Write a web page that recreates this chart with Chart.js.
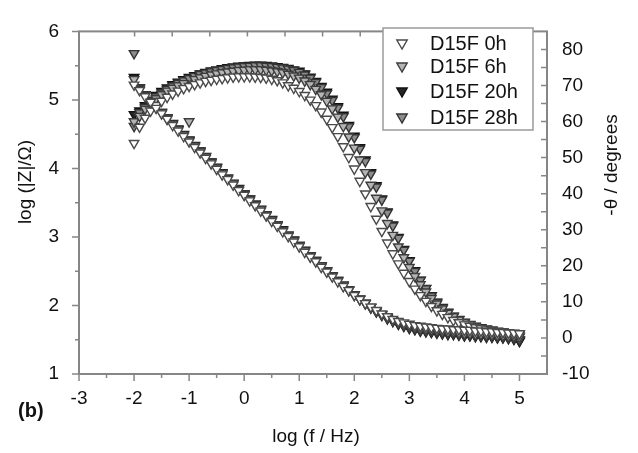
<!DOCTYPE html>
<html>
<head>
<meta charset="utf-8">
<script src="https://cdn.jsdelivr.net/npm/chart.js@4.4.0/dist/chart.umd.min.js"></script>
<style>
  html, body { margin: 0; padding: 0; background: #fff; }
</style>
</head>
<body>
<canvas id="myChart" width="638" height="453"></canvas>
<script>
// log(f / Hz), 10 points per decade
const logF = [-2.0,-1.9,-1.8,-1.7,-1.6,-1.5,-1.4,-1.3,-1.2,-1.1,
  -1.0,-0.9,-0.8,-0.7,-0.6,-0.5,-0.4,-0.3,-0.2,-0.1,
  0.0,0.1,0.2,0.3,0.4,0.5,0.6,0.7,0.8,0.9,
  1.0,1.1,1.2,1.3,1.4,1.5,1.6,1.7,1.8,1.9,
  2.0,2.1,2.2,2.3,2.4,2.5,2.6,2.7,2.8,2.9,
  3.0,3.1,3.2,3.3,3.4,3.5,3.6,3.7,3.8,3.9,
  4.0,4.1,4.2,4.3,4.4,4.5,4.6,4.7,4.8,4.9,5.0];

const seriesNames = ['D15F 0h', 'D15F 6h', 'D15F 20h', 'D15F 28h'];

// log |Z| / Ohm
const z0h = [5.22,5.14,5.05,4.97,4.88,4.80,4.72,4.63,4.55,4.47,
  4.39,4.31,4.23,4.15,4.07,3.99,3.91,3.84,3.76,3.68,
  3.61,3.53,3.46,3.38,3.31,3.23,3.16,3.08,3.01,2.93,
  2.86,2.78,2.71,2.64,2.56,2.49,2.42,2.35,2.28,2.22,
  2.15,2.09,2.03,1.98,1.93,1.88,1.84,1.80,1.77,1.75,
  1.73,1.71,1.70,1.69,1.68,1.67,1.66,1.66,1.65,1.65,
  1.64,1.64,1.63,1.63,1.62,1.62,1.61,1.61,1.60,1.60,1.59];
const z6h = [5.30,5.16,5.07,4.98,4.90,4.81,4.73,4.65,4.57,4.49,
  4.41,4.33,4.25,4.17,4.09,4.01,3.93,3.85,3.78,3.70,
  3.62,3.55,3.47,3.40,3.32,3.25,3.17,3.10,3.02,2.95,
  2.87,2.80,2.72,2.65,2.58,2.50,2.43,2.36,2.29,2.22,
  2.15,2.09,2.03,1.97,1.92,1.87,1.82,1.78,1.75,1.72,
  1.70,1.68,1.66,1.65,1.64,1.63,1.62,1.61,1.61,1.60,
  1.59,1.59,1.58,1.58,1.57,1.57,1.56,1.56,1.55,1.55,1.54];
const z20h = [5.33,5.18,5.08,4.99,4.91,4.82,4.74,4.66,4.58,4.50,
  4.42,4.34,4.26,4.18,4.10,4.02,3.94,3.86,3.79,3.71,
  3.63,3.56,3.48,3.41,3.33,3.26,3.18,3.11,3.03,2.96,
  2.88,2.81,2.73,2.66,2.58,2.51,2.44,2.37,2.30,2.23,
  2.16,2.09,2.03,1.97,1.91,1.86,1.81,1.77,1.73,1.70,
  1.67,1.65,1.63,1.62,1.61,1.60,1.59,1.58,1.58,1.57,
  1.56,1.56,1.55,1.55,1.54,1.54,1.53,1.53,1.52,1.51,1.48];
const z28h = [5.68,5.17,5.08,4.99,4.90,4.82,4.74,4.65,4.57,4.49,
  4.41,4.33,4.25,4.17,4.09,4.01,3.93,3.86,3.78,3.70,
  3.63,3.55,3.48,3.40,3.33,3.25,3.18,3.10,3.03,2.95,
  2.88,2.80,2.73,2.66,2.58,2.51,2.44,2.37,2.30,2.23,
  2.16,2.10,2.04,1.98,1.92,1.87,1.82,1.78,1.74,1.71,
  1.68,1.66,1.64,1.63,1.62,1.61,1.60,1.59,1.59,1.58,
  1.57,1.57,1.56,1.56,1.55,1.55,1.54,1.54,1.53,1.52,1.50];

// -theta / degrees
const p0h = [54.0,58.5,61.0,63.0,64.5,65.7,66.8,67.7,68.5,69.2,
  69.8,70.3,70.8,71.2,71.5,71.8,72.0,72.2,72.4,72.5,
  72.5,72.5,72.4,72.3,72.1,71.8,71.4,70.8,70.0,69.3,
  68.4,67.3,66.0,64.5,62.7,60.7,58.4,55.9,53.1,50.1,
  46.9,43.5,40.0,36.5,33.0,29.6,26.4,23.4,20.6,18.0,
  15.7,13.6,11.8,10.2,8.8,7.6,6.6,5.7,4.9,4.3,
  3.7,3.3,2.9,2.6,2.3,2.1,1.9,1.7,1.5,1.3,1.1];
const p6h = [60.0,61.5,63.5,65.0,66.4,67.5,68.5,69.3,70.0,70.6,
  60.0,71.7,72.2,72.6,73.0,73.3,73.6,73.8,74.0,74.2,
  74.3,74.4,74.4,74.4,74.3,74.1,73.9,73.6,73.2,72.7,
  72.1,71.3,70.3,69.0,67.5,65.7,63.6,61.3,58.7,55.8,
  52.7,49.4,45.9,42.4,38.8,35.3,31.8,28.5,25.3,22.3,
  19.6,17.1,14.8,12.8,11.0,9.5,8.1,6.9,5.9,5.0,
  4.3,3.7,3.2,2.8,2.5,2.2,1.9,1.7,1.4,1.1,0.6];
const p20h = [62.0,63.0,64.5,66.0,67.3,68.4,69.4,70.3,71.0,71.7,
  72.3,72.8,73.3,73.7,74.1,74.4,74.7,75.0,75.2,75.4,
  75.5,75.6,75.7,75.7,75.6,75.5,75.3,75.1,74.8,74.4,
  74.0,73.3,72.4,71.2,69.8,68.2,66.3,64.2,61.8,59.0,
  56.0,52.8,49.4,45.9,42.3,38.6,35.0,31.4,27.9,24.6,
  21.5,18.7,16.1,13.8,11.8,10.0,8.5,7.2,6.1,5.2,
  4.4,3.8,3.3,2.9,2.5,2.2,1.9,1.6,1.2,0.7,-0.8];
const p28h = [58.7,62.5,64.0,65.5,66.9,68.0,69.0,69.9,70.7,71.4,
  72.0,72.6,73.1,73.5,73.9,74.2,74.5,74.8,75.0,75.2,
  75.3,75.4,75.5,75.5,75.4,75.3,75.1,74.9,74.6,74.2,
  73.7,73.0,72.1,70.9,69.5,67.8,65.9,63.8,61.4,58.6,
  55.6,52.4,49.0,45.5,41.9,38.3,34.7,31.1,27.7,24.4,
  21.3,18.5,16.0,13.7,11.7,9.9,8.4,7.1,6.0,5.1,
  4.3,3.7,3.2,2.8,2.4,2.1,1.8,1.5,1.1,0.6,-0.5];

const xTicks = [-3, -2, -1, 0, 1, 2, 3, 4, 5];
const zTicks = [1, 2, 3, 4, 5, 6];
const phaseTicks = [-10, 0, 10, 20, 30, 40, 50, 60, 70, 80];

const fills = ['#ffffff', '#b4b4b4', '#262626', '#8c8c8c'];
const strokes = ['#4a4a4a', '#3c3c3c', '#111111', '#333333'];
const FONT = '"Liberation Sans", Arial, sans-serif';

function pairs(ys) {
  return ys.map((v, i) => ({ x: logF[i], y: v }));
}

function makeSet(label, ys, idx, axis) {
  return {
    label: label,
    data: pairs(ys),
    yAxisID: axis,
    showLine: false,
    pointStyle: 'triangle',
    rotation: 180,
    pointRadius: 5.5,
    pointHoverRadius: 5.5,
    borderWidth: 1.4,
    backgroundColor: fills[idx],
    borderColor: strokes[idx]
  };
}

function drawTri(ctx, cx, cy, r, fill, stroke) {
  ctx.beginPath();
  ctx.moveTo(cx, cy + r);
  ctx.lineTo(cx - r * 0.866, cy - r * 0.5);
  ctx.lineTo(cx + r * 0.866, cy - r * 0.5);
  ctx.closePath();
  ctx.fillStyle = fill;
  ctx.fill();
  ctx.lineWidth = 1.4;
  ctx.strokeStyle = stroke;
  ctx.stroke();
}

const frame = {
  id: 'frame',
  afterDraw(chart) {
    const ctx = chart.ctx;
    const a = chart.chartArea;
    const x = chart.scales.x, y = chart.scales.y, y2 = chart.scales.y2;
    ctx.save();

    // axis box
    ctx.strokeStyle = '#868686';
    ctx.lineWidth = 2;
    ctx.strokeRect(a.left, a.top, a.right - a.left, a.bottom - a.top);

    ctx.lineWidth = 1.5;
    ctx.beginPath();
    for (let v = -3; v <= 5.001; v += 0.5) {
      const px = x.getPixelForValue(v);
      const len = Number.isInteger(v) ? 7 : 4;
      ctx.moveTo(px, a.bottom);
      ctx.lineTo(px, a.bottom + len);
    }
    for (let v = 1; v <= 6.001; v += 0.5) {
      const py = y.getPixelForValue(v);
      const len = Number.isInteger(v) ? 7 : 4;
      ctx.moveTo(a.left - len, py);
      ctx.lineTo(a.left, py);
    }
    for (let v = -10; v <= 80; v += 5) {
      const py = y2.getPixelForValue(v);
      ctx.moveTo(a.right - 6, py);
      ctx.lineTo(a.right, py);
    }
    for (let k = 1; k < 13; k++) {
      const px = a.left + 18 + k * 37.6;
      if (px < a.right - 4) {
        ctx.moveTo(px, a.top);
        ctx.lineTo(px, a.top + 5);
      }
    }
    ctx.stroke();

    // legend box
    ctx.fillStyle = '#fff';
    ctx.fillRect(383, 28, 150, 102);
    ctx.strokeStyle = '#9a9a9a';
    ctx.lineWidth = 1.5;
    ctx.strokeRect(383, 28, 150, 102);
    const rows = [43, 66, 91, 117];
    ctx.font = '20px ' + FONT;
    ctx.textBaseline = 'middle';
    ctx.textAlign = 'left';
    seriesNames.forEach((name, i) => {
      drawTri(ctx, 402, rows[i], 6, fills[i], strokes[i]);
      ctx.fillStyle = '#111';
      ctx.fillText(name, 430, rows[i] + 1);
    });

    // titles
    ctx.fillStyle = '#111';
    ctx.textAlign = 'center';
    ctx.font = '19px ' + FONT;
    ctx.fillText('log (f / Hz)', 316, 437);

    ctx.save();
    ctx.translate(26, 182);
    ctx.rotate(-Math.PI / 2);
    ctx.fillText('log (|Z|/\u03a9)', 0, 0);
    ctx.restore();

    ctx.save();
    ctx.translate(612, 165);
    ctx.rotate(-Math.PI / 2);
    ctx.fillText('-\u03b8 / degrees', 0, 0);
    ctx.restore();

    ctx.font = 'bold 20px ' + FONT;
    ctx.textAlign = 'left';
    ctx.fillText('(b)', 18, 411);

    ctx.restore();
  }
};

const tickFont = { family: FONT, size: 19 };

const chart = new Chart(document.getElementById('myChart'), {
  type: 'line',
  data: {
    datasets: [
      makeSet('D15F 0h', z0h, 0, 'y'),
      makeSet('D15F 0h', p0h, 0, 'y2'),
      makeSet('D15F 6h', z6h, 1, 'y'),
      makeSet('D15F 6h', p6h, 1, 'y2'),
      makeSet('D15F 28h', z28h, 3, 'y'),
      makeSet('D15F 28h', p28h, 3, 'y2'),
      makeSet('D15F 20h', z20h, 2, 'y'),
      makeSet('D15F 20h', p20h, 2, 'y2')
    ]
  },
  options: {
    responsive: false,
    devicePixelRatio: 1,
    animation: false,
    layout: { padding: { top: 15, left: 0, right: 0, bottom: 0 } },
    plugins: { legend: { display: false }, tooltip: { enabled: false } },
    scales: {
      x: {
        type: 'linear',
        min: -3,
        max: 5.5,
        afterBuildTicks: (s) => { s.ticks = xTicks.map(v => ({ value: v })); },
        afterFit: (s) => { s.height = 79; },
        grid: { display: false, drawTicks: false },
        border: { display: false },
        ticks: { font: tickFont, color: '#111', padding: 13, maxRotation: 0 }
      },
      y: {
        position: 'left',
        min: 1,
        max: 6,
        afterBuildTicks: (s) => { s.ticks = zTicks.map(v => ({ value: v })); },
        afterFit: (s) => { s.width = 79; },
        grid: { display: false, drawTicks: false },
        border: { display: false },
        ticks: { font: tickFont, color: '#111', padding: 20 }
      },
      y2: {
        position: 'right',
        min: -10,
        max: 85,
        afterBuildTicks: (s) => { s.ticks = phaseTicks.map(v => ({ value: v })); },
        afterFit: (s) => { s.width = 91; },
        grid: { display: false, drawTicks: false },
        border: { display: false },
        ticks: { font: tickFont, color: '#111', padding: 15 }
      }
    }
  },
  plugins: [frame]
});
</script>
</body>
</html>
